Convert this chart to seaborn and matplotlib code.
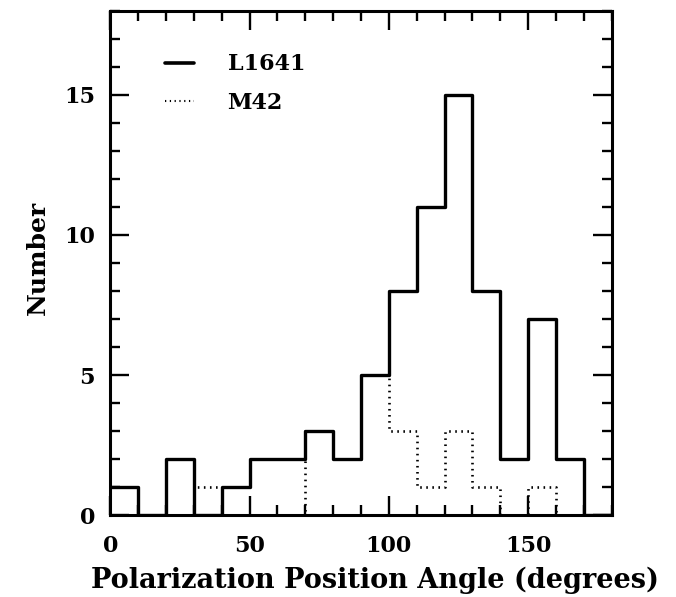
import numpy as np
import pandas as pd
import matplotlib
matplotlib.use("Agg")
import matplotlib.pyplot as plt
import seaborn as sns
from matplotlib.ticker import MultipleLocator
from matplotlib.lines import Line2D

# Data (counts per 10-degree bin)
bin_left = [0, 10, 20, 30, 40, 50, 60, 70, 80, 90, 100, 110, 120, 130, 140, 150, 160, 170]
l1641_counts = [1, 0, 2, 0, 1, 2, 2, 3, 2, 5, 8, 11, 15, 8, 2, 7, 2, 0]
m42_counts = [0, 0, 0, 1, 0, 0, 0, 3, 2, 5, 3, 1, 3, 1, 0, 1, 0, 0]
x_ticks = [0, 50, 100, 150]
y_ticks = [0, 5, 10, 15]
xlabel = "Polarization Position Angle (degrees)"
ylabel = "Number"

bin_width = 10
centers = [b + bin_width / 2 for b in bin_left]

df_l = pd.DataFrame({"angle": centers, "n": l1641_counts})
df_m = pd.DataFrame({"angle": centers, "n": m42_counts})

sns.set_style("ticks")
plt.rcParams["font.family"] = ["DejaVu Serif"]
plt.rcParams["text.color"] = "black"
plt.rcParams["axes.labelcolor"] = "black"
plt.rcParams["xtick.color"] = "black"
plt.rcParams["ytick.color"] = "black"

fig = plt.figure(figsize=(6.76, 5.97), dpi=100)
ax = fig.add_axes([0.163, 0.137, 0.742, 0.845])

dots = (0, (0.6, 1.7))
sns.histplot(data=df_m, x="angle", weights="n", binwidth=bin_width, binrange=(0, 180),
             element="step", fill=False, color="black", linewidth=1.9,
             linestyle=dots, ax=ax)
sns.histplot(data=df_l, x="angle", weights="n", binwidth=bin_width, binrange=(0, 180),
             element="step", fill=False, color="black", linewidth=2.4, ax=ax)

ax.set_xlim(0, 180)
ax.set_ylim(0, 18)
ax.set_xticks(x_ticks)
ax.set_yticks(y_ticks)
ax.xaxis.set_minor_locator(MultipleLocator(10))
ax.yaxis.set_minor_locator(MultipleLocator(1))
ax.tick_params(which="both", direction="in", top=True, right=True,
               color="black", labelcolor="black", width=1.7, labelsize=16, pad=11)
ax.tick_params(axis="x", which="both", pad=14)
ax.tick_params(which="major", length=14)
ax.tick_params(which="minor", length=7)
for lab in ax.get_xticklabels() + ax.get_yticklabels():
    lab.set_fontweight("semibold")
for s in ax.spines.values():
    s.set_linewidth(2.2)
    s.set_color("black")

ax.set_xlabel(xlabel, fontsize=19.5, fontweight="bold", labelpad=7)
ax.set_ylabel(ylabel, fontsize=18, fontweight="bold", labelpad=10)
ax.xaxis.label.set_x(0.528)
ax.yaxis.label.set_y(0.51)

handles = [Line2D([], [], color="black", linewidth=2.6),
           Line2D([], [], color="black", linewidth=1.5, linestyle=dots)]
ax.legend(handles, ["L1641", "M42"], loc="upper left", bbox_to_anchor=(0.07, 0.955),
          frameon=False, handlelength=1.3, handletextpad=1.5,
          labelspacing=0.75, prop={"size": 16, "weight": "semibold"})

fig.savefig("out.png", dpi=100)
